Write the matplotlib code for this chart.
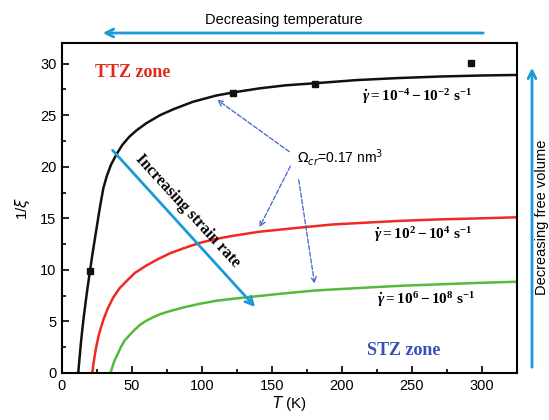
import matplotlib
matplotlib.use('Agg')
import matplotlib.pyplot as plt
from matplotlib.ticker import MultipleLocator

# curves: temperature (K) vs 1/xi
black_T = [11.6, 12.5, 13.5, 14.5, 15.5, 17, 18.5, 20, 21.5, 23, 25, 27, 29.5, 32, 35, 38.9, 43, 48, 53, 60,
           70, 80, 93.5, 110, 122, 141, 160, 181, 210, 240, 270, 300, 325]
black_y = [0, 1.4, 2.9, 4.2, 5.4, 7.0, 8.5, 9.9, 11.3, 12.6, 14.3, 16.0, 17.9, 19.1, 20.2, 21.2, 22.1, 22.9, 23.5, 24.2,
           25.0, 25.6, 26.3, 26.9, 27.2, 27.6, 27.9, 28.1, 28.4, 28.6, 28.75, 28.85, 28.9]

red_T = [21.6, 22.5, 23.5, 24.7, 26.5, 29.4, 32.5, 36.5, 41, 46, 52, 60, 68, 77, 87, 98, 110, 122, 141, 170,
         193, 220, 241, 270, 300, 325]
red_y = [0, 0.9, 1.8, 2.7, 3.8, 5.1, 6.2, 7.3, 8.2, 8.9, 9.7, 10.4, 11.0, 11.6, 12.1, 12.6, 13.0, 13.3, 13.7, 14.1,
         14.4, 14.6, 14.75, 14.9, 15.0, 15.1]

green_T = [34.6, 36, 37.5, 40, 42, 44.5, 48.4, 52, 56, 60, 65, 70, 77, 88, 98, 110, 122, 136, 150, 165, 181,
           200, 220, 241, 270, 300, 325]
green_y = [0, 0.6, 1.2, 1.9, 2.5, 3.1, 3.7, 4.2, 4.7, 5.05, 5.4, 5.7, 6.0, 6.4, 6.7, 7.0, 7.2, 7.4, 7.6, 7.8, 8.0,
           8.15, 8.3, 8.45, 8.6, 8.75, 8.85]

# measured points (squares)
mark_T = [20, 122, 181, 292]
mark_y = [9.9, 27.2, 28.0, 30.1]

rate_labels = [r'$\dot{\gamma}=10^{-4}-10^{-2}\ \mathrm{s}^{-1}$',
               r'$\dot{\gamma}=10^{2}-10^{4}\ \mathrm{s}^{-1}$',
               r'$\dot{\gamma}=10^{6}-10^{8}\ \mathrm{s}^{-1}$']

plt.rcParams['font.family'] = ['Liberation Sans', 'DejaVu Sans']
plt.rcParams['mathtext.fontset'] = 'custom'
plt.rcParams['mathtext.rm'] = 'Liberation Serif:bold'
plt.rcParams['mathtext.it'] = 'Liberation Serif:italic:bold'
plt.rcParams['mathtext.bf'] = 'Liberation Serif:bold'

W, H = 549, 420
fig = plt.figure(figsize=(W / 100, H / 100), dpi=100)
ax = fig.add_axes([62 / W, 1 - 373 / H, (517 - 62) / W, (373 - 43) / H])

def fp(x, y):
    # figure pixel (from top-left) -> figure fraction
    return (x / W, 1 - y / H)

blue = '#1a9bd7'
dblue = '#3c63cc'

ax.plot(black_T, black_y, color='#111111', lw=1.8)
ax.plot(red_T, red_y, color='#ee2a24', lw=1.8)
ax.plot(green_T, green_y, color='#55b93a', lw=1.8)
ax.plot(mark_T, mark_y, 's', color='#111111', ms=4, ls='none')

ax.set_xlim(0, 325)
ax.set_ylim(0, 32)
ax.xaxis.set_major_locator(MultipleLocator(50))
ax.xaxis.set_minor_locator(MultipleLocator(25))
ax.yaxis.set_major_locator(MultipleLocator(5))
ax.yaxis.set_minor_locator(MultipleLocator(2.5))
ax.tick_params(which='both', direction='in', top=False, right=False, labelsize=10.5, width=1.2)
ax.tick_params(which='major', length=5, pad=4)
ax.tick_params(which='minor', length=3)
for s in ax.spines.values():
    s.set_linewidth(1.5)

ax.set_xlabel(r'$T$ (K)', fontsize=11, labelpad=1, math_fontfamily='dejavusans')
ax.set_ylabel(r'1/$\xi$', fontsize=11, labelpad=6, math_fontfamily='dejavusans')

# zone labels
ax.text(23.6, 29.1, 'TTZ zone', color='#e02a20', fontsize=13, fontweight='bold',
        family='Liberation Serif', va='center')
ax.text(218, 2.2, 'STZ zone', color='#3c4fb5', fontsize=13, fontweight='bold',
        family='Liberation Serif', va='center')

# strain-rate labels
ax.text(214, 26.8, rate_labels[0], fontsize=11, va='center')
ax.text(223, 13.4, rate_labels[1], fontsize=11, va='center')
ax.text(225, 7.1, rate_labels[2], fontsize=11, va='center')

# Omega label and dashed pointers
ax.text(168, 20.9, r'$\Omega_{cr}$=0.17 nm$^3$', fontsize=10, va='center', math_fontfamily='dejavusans')
for (x0, y0), (x1, y1) in [((164, 21.3), (109.3, 26.65)),
                           ((164, 20.3), (140.2, 13.9)),
                           ((168.8, 19.0), (180.7, 8.4))]:
    ax.annotate('', xy=(x1, y1), xytext=(x0, y0),
                arrowprops=dict(arrowstyle='->', color=dblue, lw=0.9, ls='--'))

# increasing strain rate arrow
ax.annotate('', xy=(139.3, 6.2), xytext=(34.8, 21.8),
            arrowprops=dict(arrowstyle='->', color=blue, lw=2, mutation_scale=14))
ax.text(89.5, 15.7, 'Increasing strain rate', rotation=-47.5, fontsize=11.5, fontweight='bold',
        family='Liberation Serif', ha='center', va='center', rotation_mode='anchor')

# outer arrows
ax.annotate('', xy=fp(100, 33), xytext=fp(486, 33), xycoords='figure fraction',
            textcoords='figure fraction',
            arrowprops=dict(arrowstyle='->', color=blue, lw=2, mutation_scale=14))
fig.text(*fp(284, 20), 'Decreasing temperature', fontsize=10.5, ha='center', va='center')
ax.annotate('', xy=fp(532, 65), xytext=fp(532, 370), xycoords='figure fraction',
            textcoords='figure fraction',
            arrowprops=dict(arrowstyle='->', color=blue, lw=2, mutation_scale=14))
fig.text(*fp(542, 217), 'Decreasing free volume', fontsize=10.5, rotation=90,
         ha='center', va='center')

fig.savefig('out.png', dpi=100)
